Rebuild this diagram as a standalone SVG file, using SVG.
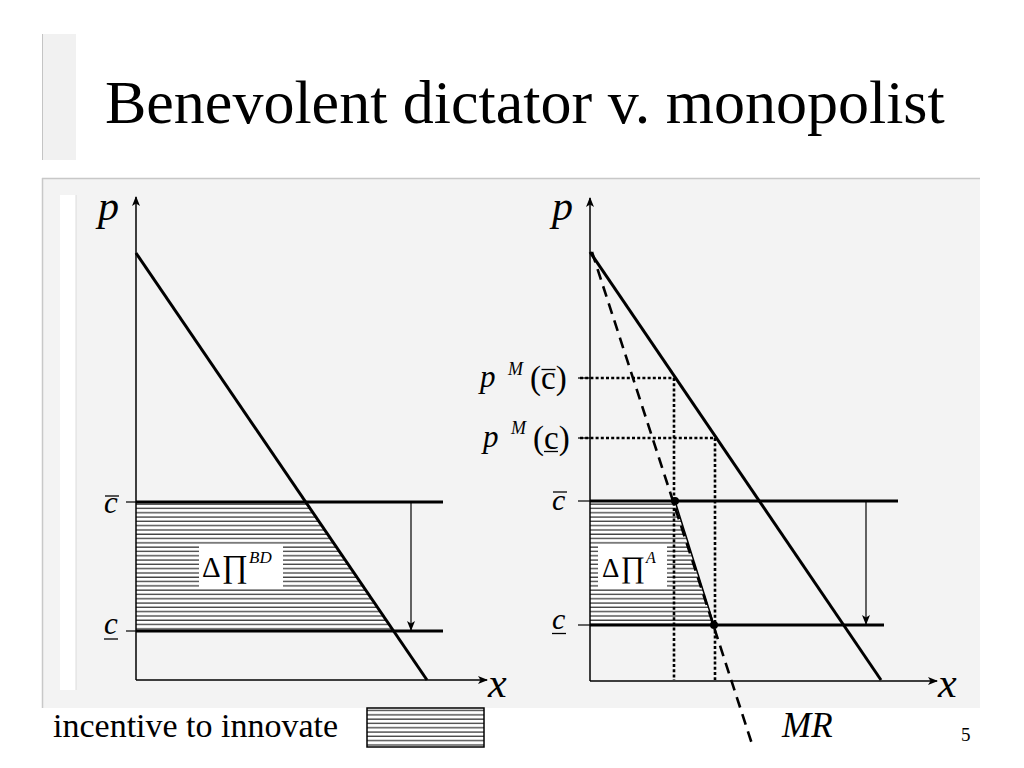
<svg xmlns="http://www.w3.org/2000/svg" width="1024" height="768" viewBox="0 0 1024 768">
<style>
.serif{font-family:"Liberation Serif","Times New Roman",serif;fill:#000}
.it{font-style:italic}
.thick{stroke:#000;stroke-width:3;fill:none}
.axis{stroke:#000;stroke-width:1.5;fill:none}
.thin{stroke:#000;stroke-width:1.2;fill:none}
.dot{stroke:#000;stroke-width:2.6;stroke-dasharray:3 2.2;fill:none}
.dash{stroke:#000;stroke-width:2.6;stroke-dasharray:11 7;fill:none}
</style>
<defs>
<pattern id="hatch" patternUnits="userSpaceOnUse" width="8" height="4.3">
<rect width="8" height="4.3" fill="#fff"/>
<line x1="0" y1="1" x2="8" y2="1" stroke="#000" stroke-width="1"/>
</pattern>
<marker id="arr" markerWidth="10" markerHeight="8" refX="9" refY="4" orient="auto" markerUnits="userSpaceOnUse">
<path d="M0,0 L10,4 L0,8 L2.5,4 z" fill="#000"/>
</marker>
</defs>
<rect width="1024" height="768" fill="#fff"/>
<g id="title-bar">
<rect x="42" y="34" width="34" height="126" fill="#f1f1f1"/>
<line x1="42.5" y1="34" x2="42.5" y2="160" stroke="#c4c4c4" stroke-width="1"/>
<text class="serif" x="105" y="123" font-size="62">Benevolent dictator v. monopolist</text>
</g>
<g id="panel">
<rect x="42" y="178" width="938" height="530" fill="#f3f3f3"/>
<line x1="42" y1="178.5" x2="980" y2="178.5" stroke="#c8c8c8" stroke-width="1.5"/>
<line x1="42.5" y1="178" x2="42.5" y2="708" stroke="#c8c8c8" stroke-width="1.5"/>
<rect x="60" y="195" width="16" height="495" fill="#fff"/>
<line x1="76" y1="195" x2="76" y2="690" stroke="#dcdcdc" stroke-width="1"/>
</g>
<g id="left-chart">
<polygon id="bd-area" points="136,502 305.7,502 393.6,631 136,631" fill="url(#hatch)"/>
<rect id="bd-label-bg" x="199" y="545" width="84" height="44" fill="#fff"/>
<text class="serif" x="202" y="577"><tspan font-size="29">Δ</tspan><tspan font-size="32" dx="1">∏</tspan><tspan class="it" font-size="17" dy="-14" dx="1">BD</tspan></text>
<line class="thick" x1="136" y1="502" x2="443" y2="502"/>
<line class="thick" x1="136" y1="631" x2="443" y2="631"/>
<line class="thick" x1="136" y1="253" x2="427" y2="680"/>
<line class="axis" x1="136" y1="680" x2="136" y2="197" marker-end="url(#arr)"/>
<line class="axis" x1="136" y1="680" x2="487" y2="680" marker-end="url(#arr)"/>
<line class="thin" x1="126" y1="502" x2="136" y2="502"/>
<line class="thin" x1="126" y1="631" x2="136" y2="631"/>
<line class="thin" x1="411" y1="503" x2="411" y2="630" marker-end="url(#arr)"/>
<text class="serif it" x="98" y="220" font-size="42">p</text>
<text class="serif it" x="488" y="697" font-size="42">x</text>
<text class="serif it" x="104" y="513" font-size="31">c</text>
<line x1="105" y1="496" x2="119" y2="496" stroke="#000" stroke-width="1.3"/>
<text class="serif it" x="104" y="634" font-size="31">c</text>
<line x1="104" y1="639" x2="118" y2="639" stroke="#000" stroke-width="1.3"/>
</g>
<g id="right-chart">
<polygon id="a-area" points="590,501 675,501 714,625 590,625" fill="url(#hatch)"/>
<rect id="a-label-bg" x="598" y="546" width="69" height="41" fill="#fff"/>
<text class="serif" x="602" y="577"><tspan font-size="27">Δ</tspan><tspan font-size="30" dx="1">∏</tspan><tspan class="it" font-size="16" dy="-14" dx="1">A</tspan></text>
<line class="dot" x1="580" y1="378" x2="675" y2="378"/>
<line class="dot" x1="674" y1="378" x2="674" y2="680"/>
<line class="dot" x1="580" y1="438" x2="716" y2="438"/>
<line class="dot" x1="715" y1="438" x2="715" y2="680"/>
<line class="thick" x1="590" y1="501" x2="898" y2="501"/>
<line class="thick" x1="590" y1="625" x2="884" y2="625"/>
<line class="thick" x1="590" y1="252" x2="881" y2="680"/>
<line x1="675" y1="501" x2="714" y2="625" stroke="#000" stroke-width="1.5"/>
<line class="dash" x1="592" y1="252" x2="752" y2="744"/>
<circle cx="675" cy="501" r="4" fill="#000"/>
<circle cx="714" cy="625" r="4" fill="#000"/>
<line class="axis" x1="590" y1="681" x2="590" y2="198" marker-end="url(#arr)"/>
<line class="axis" x1="590" y1="681" x2="937" y2="681" marker-end="url(#arr)"/>
<line class="thin" x1="578" y1="378" x2="590" y2="378"/>
<line class="thin" x1="578" y1="438" x2="590" y2="438"/>
<line class="thin" x1="578" y1="501" x2="590" y2="501"/>
<line class="thin" x1="578" y1="625" x2="590" y2="625"/>
<line class="thin" x1="866" y1="502" x2="866" y2="624" marker-end="url(#arr)"/>
<text class="serif it" x="552" y="220" font-size="42">p</text>
<text class="serif it" x="938" y="697" font-size="42">x</text>
<text class="serif it" x="552" y="510" font-size="30">c</text>
<line x1="553" y1="492" x2="567" y2="492" stroke="#000" stroke-width="1.3"/>
<text class="serif it" x="552" y="629" font-size="30">c</text>
<line x1="552" y1="633.5" x2="566" y2="633.5" stroke="#000" stroke-width="1.3"/>
<text class="serif it" x="480" y="387" font-size="31">p</text>
<text class="serif it" x="508" y="375" font-size="18">M</text>
<text class="serif" x="530" y="389" font-size="33">(c)</text>
<line x1="541.5" y1="369.5" x2="555.5" y2="369.5" stroke="#000" stroke-width="1.3"/>
<text class="serif it" x="483" y="447" font-size="31">p</text>
<text class="serif it" x="511" y="434" font-size="18">M</text>
<text class="serif" x="533" y="449" font-size="33">(c)</text>
<line x1="544" y1="451.5" x2="558" y2="451.5" stroke="#000" stroke-width="1.3"/>
<text class="serif it" x="782" y="737" font-size="35">MR</text>
</g>
<g id="legend">
<text class="serif" x="53" y="737" font-size="34">incentive to innovate</text>
<rect x="367" y="708" width="117" height="39" fill="url(#hatch)" stroke="#000" stroke-width="1.5"/>
</g>
<text class="serif" x="961" y="741" font-size="19">5</text>
</svg>
